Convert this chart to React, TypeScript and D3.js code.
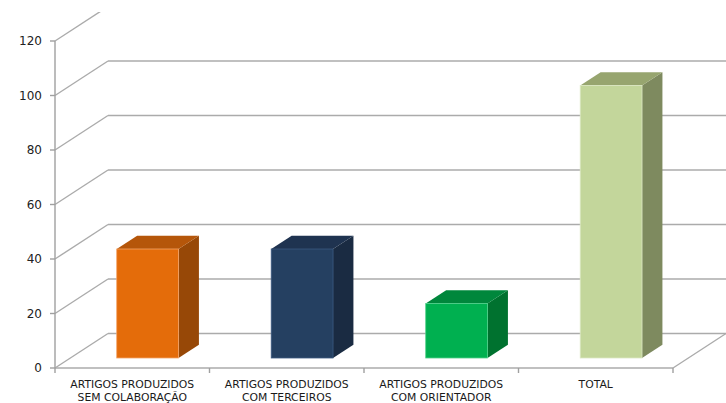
import React from "react";
import * as d3 from "d3";

// Chart data
const categories = [
  "ARTIGOS PRODUZIDOS\nSEM COLABORAÇÃO",
  "ARTIGOS PRODUZIDOS\nCOM TERCEIROS",
  "ARTIGOS PRODUZIDOS\nCOM ORIENTADOR",
  "TOTAL",
];
const values = [40, 40, 20, 100];
const yTicks = [0, 20, 40, 60, 80, 100, 120];

// Face colours per bar: front, top, side
const frontColors = ["#E46C0A", "#254061", "#00B050", "#C3D69B"];
const topColors = ["#B5560A", "#1F3350", "#00873C", "#97A56F"];
const sideColors = ["#974807", "#1A2B42", "#00722F", "#7E8A5F"];
const edgeColors = ["#F3A468", "#3C5A80", "#4FD08A", "#DCE8C4"];

const W = 726;
const H = 403;

export default function App() {
  const left = 55;
  const right = 673;
  const floorY = 368;
  const topY = 41;
  // depth vector of the 3D box (back wall offset)
  const DX = 53;
  const DY = -34.5;

  const y = d3.scaleLinear().domain([0, 120]).range([floorY, topY]);
  const x = d3.scaleBand<string>().domain(categories).range([left, right]).padding(0);
  const bw = x.bandwidth();

  // bars sit between these depth fractions
  const f0 = 0.29;
  const f1 = 0.675;
  const ox = f0 * DX;
  const oy = f0 * DY;
  const ddx = (f1 - f0) * DX;
  const ddy = (f1 - f0) * DY;

  const gridColor = "#ABABAB";
  const pts = (p: [number, number][]) => p.map((q) => q.join(",")).join(" ");

  return (
    <div style={{ position: "fixed", left: 0, top: 0 }}>
      <svg width={W} height={H} style={{ display: "block", background: "#fff" }}>
        <defs>
          <clipPath id="plotClip">
            <rect x={0} y={12} width={W} height={H - 12} />
          </clipPath>
        </defs>

        {/* side and back wall gridlines */}
        <g clipPath="url(#plotClip)" stroke={gridColor} strokeWidth={1.4} fill="none">
          {yTicks.map((t) => (
            <g key={t}>
              <line x1={left} y1={y(t)} x2={left + DX} y2={y(t) + DY} />
              <line x1={left + DX} y1={y(t) + DY} x2={W} y2={y(t) + DY} />
            </g>
          ))}
          {/* floor front edge and right edge */}
          <line x1={left} y1={floorY} x2={right} y2={floorY} />
          <line x1={right} y1={floorY} x2={right + DX} y2={floorY + DY} />
        </g>

        {/* value axis */}
        <g stroke="#A0A0A0" strokeWidth={1.4}>
          <line x1={left} y1={topY} x2={left} y2={floorY} />
          {yTicks.map((t) => (
            <line key={t} x1={left - 5} y1={y(t)} x2={left} y2={y(t)} />
          ))}
          {[...categories.map((c) => x(c) as number), right].map((px, i) => (
            <line key={i} x1={px} y1={floorY} x2={px} y2={floorY + 5} />
          ))}
        </g>

        {/* tick labels */}
        <g fontFamily="'DejaVu Sans', sans-serif" fontSize={12} fill="#222">
          {yTicks.map((t) => (
            <text key={t} x={42} y={y(t)} dy="0.36em" textAnchor="end">
              {t}
            </text>
          ))}
        </g>

        {/* 3D columns */}
        {categories.map((c, i) => {
          const xl = (x(c) as number) + bw * 0.3 + ox;
          const xr = xl + bw * 0.4;
          const yt = y(values[i]) + oy;
          const yb = y(0) + oy;
          return (
            <g key={c}>
              <polygon
                points={pts([
                  [xr, yt],
                  [xr + ddx, yt + ddy],
                  [xr + ddx, yb + ddy],
                  [xr, yb],
                ])}
                fill={sideColors[i]}
              />
              <polygon
                points={pts([
                  [xl, yt],
                  [xl + ddx, yt + ddy],
                  [xr + ddx, yt + ddy],
                  [xr, yt],
                ])}
                fill={topColors[i]}
              />
              <rect
                x={xl}
                y={yt}
                width={xr - xl}
                height={yb - yt}
                fill={frontColors[i]}
                stroke={edgeColors[i]}
                strokeWidth={0.8}
              />
            </g>
          );
        })}

        {/* category labels */}
        <g fontFamily="'DejaVu Sans', sans-serif" fontSize={10.8} fill="#1a1a1a" textAnchor="middle">
          {categories.map((c) => {
            const cx = (x(c) as number) + bw / 2;
            return (
              <text key={c} x={cx} y={388}>
                {c.split("\n").map((line, j) => (
                  <tspan key={j} x={cx} dy={j === 0 ? 0 : 12.6}>
                    {line}
                  </tspan>
                ))}
              </text>
            );
          })}
        </g>
      </svg>
    </div>
  );
}
